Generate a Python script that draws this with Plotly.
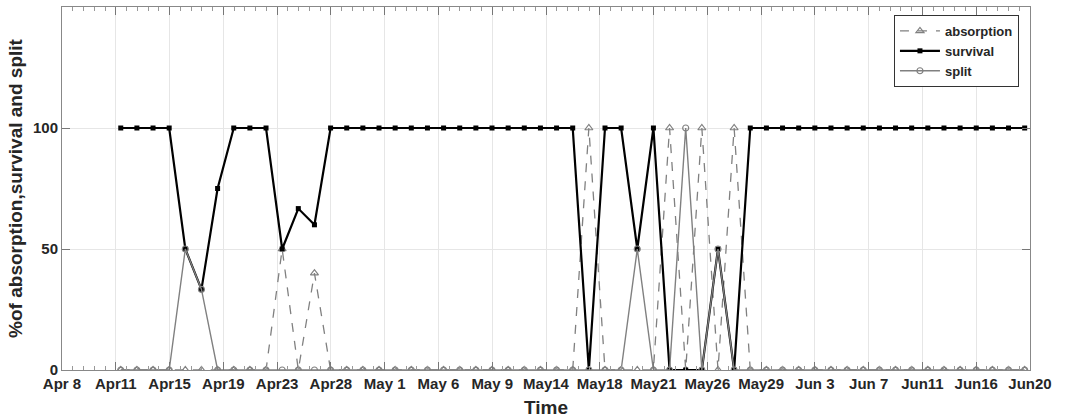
import numpy as np
import plotly.graph_objects as go

# ---- data ----
day_index = list(range(57))

absorption = [0, 0, 0, 0, 0, 0, 0, 0, 0, 0,
              50, 0, 40, 0, 0, 0, 0, 0, 0, 0,
              0, 0, 0, 0, 0, 0, 0, 0, 0, 100,
              0, 0, 0, 0, 100, 0, 100, 0, 100, 0,
              0, 0, 0, 0, 0, 0, 0, 0, 0, 0,
              0, 0, 0, 0, 0, 0, 0]

survival = [100, 100, 100, 100, 50, 33.3, 75, 100, 100, 100,
            50, 66.7, 60, 100, 100, 100, 100, 100, 100, 100,
            100, 100, 100, 100, 100, 100, 100, 100, 100, 0,
            100, 100, 50, 100, 0, 0, 0, 50, 0, 100,
            100, 100, 100, 100, 100, 100, 100, 100, 100, 100,
            100, 100, 100, 100, 100, 100, 100]

split = [0, 0, 0, 0, 50, 33.3, 0, 0, 0, 0,
         0, 0, 0, 0, 0, 0, 0, 0, 0, 0,
         0, 0, 0, 0, 0, 0, 0, 0, 0, 0,
         0, 0, 50, 0, 0, 100, 0, 50, 0, 0,
         0, 0, 0, 0, 0, 0, 0, 0, 0, 0,
         0, 0, 0, 0, 0, 0, 0]

tick_labels = ["Apr 8", "Apr11", "Apr15", "Apr19", "Apr23", "Apr28", "May 1",
               "May 6", "May 9", "May14", "May18", "May21", "May26", "May29",
               "Jun 3", "Jun 7", "Jun11", "Jun16", "Jun20"]
y_ticks = [0, 50, 100]

# ---- layout helpers ----
x_lo, x_hi = -3.64, 56.33
major = np.linspace(x_lo, x_hi, len(tick_labels))
minor = np.linspace(x_lo, x_hi, (len(tick_labels) - 1) * 5 + 1)

GRAY = "#808080"
TXT = "#262626"
FONT = "Liberation Sans, Arial, sans-serif"

fig = go.Figure()
fig.add_trace(go.Scatter(
    x=day_index, y=absorption, name="absorption", mode="lines+markers",
    line=dict(color=GRAY, width=1.3, dash="dash"),
    marker=dict(symbol="triangle-up-open", size=7, color=GRAY, line=dict(width=1.2, color=GRAY))))
fig.add_trace(go.Scatter(
    x=day_index, y=survival, name="survival", mode="lines+markers",
    line=dict(color="black", width=2.2),
    marker=dict(symbol="square", size=5, color="black")))
fig.add_trace(go.Scatter(
    x=day_index, y=split, name="split", mode="lines+markers",
    line=dict(color=GRAY, width=1.4),
    marker=dict(symbol="circle-open", size=6, color=GRAY, line=dict(width=1.2, color=GRAY))))

fig.update_layout(
    width=1066, height=419,
    margin=dict(l=62, r=36, t=7, b=49),
    paper_bgcolor="white", plot_bgcolor="white",
    font=dict(family=FONT, color=TXT),
    showlegend=True,
    legend=dict(x=0.9886, y=0.978, xanchor="right", yanchor="top",
                bgcolor="white", bordercolor="#333", borderwidth=1,
                font=dict(size=13, weight="bold", color=TXT),
                tracegroupgap=0, itemwidth=40),
    xaxis=dict(
        range=[x_lo, x_hi], tickmode="array", tickvals=major, ticktext=tick_labels,
        ticks="inside", ticklen=8, tickcolor="#777", tickwidth=1,
        showline=True, linecolor="#888", linewidth=1, mirror="ticks",
        showgrid=True, gridcolor="#e6e6e6", gridwidth=1, zeroline=False,
        tickfont=dict(size=15, weight="bold", color=TXT),
        minor=dict(tickmode="array", tickvals=minor, ticks="inside", ticklen=4,
                   tickcolor="#999", showgrid=False),
        title=dict(text="Time", font=dict(size=19, weight="bold", color=TXT), standoff=9),
        automargin=False),
    yaxis=dict(
        range=[0, 150], tickmode="array", tickvals=y_ticks,
        ticks="inside", ticklen=8, tickcolor="#777",
        showline=True, linecolor="#888", linewidth=1, mirror="ticks",
        showgrid=True, gridcolor="#e6e6e6", zeroline=False,
        tickfont=dict(size=15, weight="bold", color=TXT),
        title=dict(text="%of absorption,survival and split",
                   font=dict(size=19, weight="bold", color=TXT), standoff=5),
        automargin=False),
)

fig.write_html("out.html", config={"displayModeBar": False},
               post_script="document.body.style.margin='0';document.body.style.overflow='hidden';")
